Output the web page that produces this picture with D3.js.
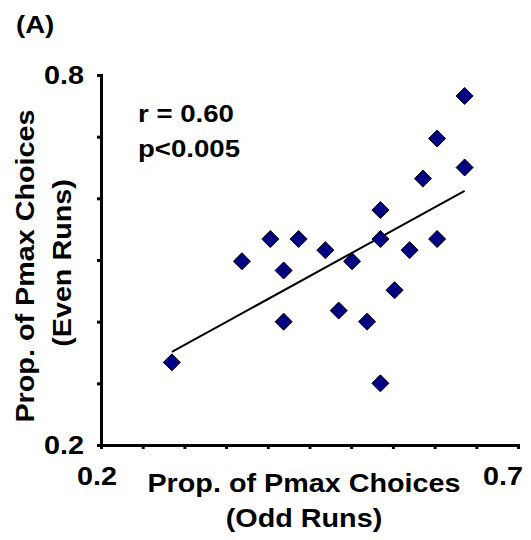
<!DOCTYPE html>
<html>
<head>
<meta charset="utf-8">
<script src="https://cdn.jsdelivr.net/npm/d3@7"></script>
<style>
  body { margin: 0; background: #fff; }
  text { font-family: "Liberation Sans", Arial, sans-serif; font-weight: bold; fill: #000; }
</style>
</head>
<body>
<svg id="chart" width="531" height="540"></svg>
<script>
// values
const oddRuns  = [0.636, 0.603, 0.636, 0.586, 0.535, 0.535, 0.603, 0.570, 0.403, 0.437,
                  0.469, 0.369, 0.501, 0.419, 0.552, 0.485, 0.419, 0.519, 0.285, 0.535];
const evenRuns = [0.766, 0.697, 0.650, 0.632, 0.581, 0.534, 0.534, 0.516, 0.534, 0.534,
                  0.516, 0.498, 0.498, 0.483, 0.451, 0.418, 0.400, 0.400, 0.334, 0.300];
const fitX = [0.285, 0.636];
const fitY = [0.351, 0.612];
const xTicks = [0.2, 0.25, 0.3, 0.35, 0.4, 0.45, 0.5, 0.55, 0.6, 0.65, 0.7];
const yTicks = [0.2, 0.3, 0.4, 0.5, 0.6, 0.7, 0.8];
const xTickLabels = ['0.2', '0.7'];
const yTickLabels = ['0.8', '0.2'];

let svg = d3.select('#chart');

let x = d3.scaleLinear().domain([0.2, 0.7]).range([101, 518]);
let y = d3.scaleLinear().domain([0.2, 0.8]).range([445, 75]);

// text in the figure is a bit wide, stretch it
function label(tx, ty, str, size, anchor, rot) {
    return svg.append('text')
        .attr('transform', `translate(${tx},${ty})` + (rot ? ` rotate(${rot})` : '') + ' scale(1.15,1)')
        .attr('text-anchor', anchor || 'start')
        .style('font-size', size + 'px')
        .text(str);
}

// axes
let xAxis = svg.append('g')
    .attr('transform', 'translate(0,445)')
    .call(d3.axisBottom(x).tickValues(xTicks).tickSize(4).tickFormat(''));
let yAxis = svg.append('g')
    .attr('transform', 'translate(101,0)')
    .call(d3.axisLeft(y).tickValues(yTicks).tickSize(4).tickFormat(''));

[xAxis, yAxis].forEach(a => {
    a.select('.domain').attr('stroke', '#000').attr('stroke-width', 3);
    a.selectAll('.tick line').attr('stroke', '#000').attr('stroke-width', 3);
});

// tick labels (only the ends are labelled)
label(97, 485, xTickLabels[0], 25, 'middle');
label(503, 485, xTickLabels[1], 25, 'middle');
label(84, y(0.8) + 9, yTickLabels[0], 25, 'end');
label(84, y(0.2) + 9, yTickLabels[1], 25, 'end');

// fit line
svg.append('line')
    .attr('x1', x(fitX[0])).attr('y1', y(fitY[0]))
    .attr('x2', x(fitX[1])).attr('y2', y(fitY[1]))
    .attr('stroke', '#000')
    .attr('stroke-width', 2);

// points
let pts = oddRuns.map((v, i) => ({x: v, y: evenRuns[i]}));
svg.selectAll('path.pt')
    .data(pts)
    .enter()
    .append('path')
    .attr('class', 'pt')
    .attr('d', 'M0,-8.5L8.5,0L0,8.5L-8.5,0Z')
    .attr('transform', d => `translate(${x(d.x)},${y(d.y)})`)
    .attr('fill', '#000080')
    .attr('stroke', '#000')
    .attr('stroke-width', 1);

// stats
label(138, 122, 'r = 0.60', 24);
label(138, 157, 'p<0.005', 24);

// panel letter
label(16, 33, '(A)', 24);

// axis titles
label(304, 492, 'Prop. of Pmax Choices', 25, 'middle');
label(304, 527, '(Odd Runs)', 25, 'middle');
label(34, 266, 'Prop. of Pmax Choices', 25, 'middle', -90);
label(71, 263, '(Even Runs)', 25, 'middle', -90);
</script>
</body>
</html>
